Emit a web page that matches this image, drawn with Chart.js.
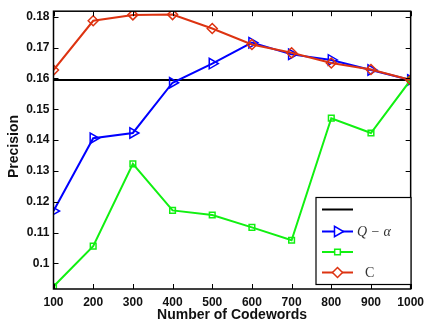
<!DOCTYPE html>
<html>
<head>
<meta charset="utf-8">
<script src="https://cdn.jsdelivr.net/npm/chart.js@4.4.0/dist/chart.umd.min.js"></script>
<style>
html,body{margin:0;padding:0;background:#fff;}
#wrap{position:relative;width:430px;height:333px;}
</style>
</head>
<body>
<div id="wrap"><canvas id="c" width="430" height="333"></canvas></div>
<script>
const codewords = [100, 200, 300, 400, 500, 600, 700, 800, 900, 1000];
const baseline = [0.1595, 0.1595, 0.1595, 0.1595, 0.1595, 0.1595, 0.1595, 0.1595, 0.1595, 0.1595];
const qAlpha = [0.1170, 0.1406, 0.1423, 0.1586, 0.1648, 0.1716, 0.1678, 0.1660, 0.1627, 0.1595];
const green = [0.0925, 0.1056, 0.1323, 0.1172, 0.1157, 0.1117, 0.1075, 0.1471, 0.1423, 0.1595];
const cSeries = [0.1627, 0.1787, 0.1806, 0.1807, 0.1762, 0.1710, 0.1683, 0.1650, 0.1629, 0.1595];
const yTicks = [0.10, 0.11, 0.12, 0.13, 0.14, 0.15, 0.16, 0.17, 0.18];
const xTicks = [100, 200, 300, 400, 500, 600, 700, 800, 900, 1000];
const yLabels = ['0.1', '0.11', '0.12', '0.13', '0.14', '0.15', '0.16', '0.17', '0.18'];
const legendLabels = ['', 'Q \u2212 \u03B1', '', 'C'];

const BLUE = '#0000ff', GREEN = '#11f011', RED = '#dd3311', BLACK = '#000000';
const tickFont = {family: '"Liberation Sans", Arial, sans-serif', size: 12, weight: 'bold'};

function pts(arr){ return arr.map((v,i)=>({x: codewords[i], y: v})); }

const boxPlugin = {
  id: 'box',
  afterDraw(chart){
    const ctx = chart.ctx, a = chart.chartArea;
    const xs = chart.scales.x, ys = chart.scales.y;
    ctx.save();
    ctx.strokeStyle = '#000';
    ctx.lineWidth = 1.5;
    ctx.strokeRect(a.left, a.top, a.right - a.left, a.bottom - a.top);
    ctx.lineWidth = 1;
    const L = 5;
    ctx.beginPath();
    xTicks.forEach(v=>{
      const px = Math.round(xs.getPixelForValue(v)) + 0.5;
      ctx.moveTo(px, a.bottom); ctx.lineTo(px, a.bottom - L);
      ctx.moveTo(px, a.top); ctx.lineTo(px, a.top + L);
    });
    yTicks.forEach(v=>{
      const py = Math.round(ys.getPixelForValue(v)) + 0.5;
      ctx.moveTo(a.left, py); ctx.lineTo(a.left + L, py);
      ctx.moveTo(a.right, py); ctx.lineTo(a.right - L, py);
    });
    ctx.stroke();

    // axis titles
    ctx.fillStyle = '#111';
    ctx.font = 'bold 14px "Liberation Sans", Arial, sans-serif';
    ctx.textAlign = 'center';
    ctx.textBaseline = 'middle';
    ctx.fillText('Number of Codewords', (a.left + a.right) / 2, 315.5);
    ctx.save();
    ctx.translate(14.5, 146.5);
    ctx.rotate(-Math.PI / 2);
    ctx.font = 'bold 14px "Liberation Sans", Arial, sans-serif';
    ctx.fillText('Precision', 0, 0);
    ctx.restore();

    // legend
    const bx = 316, by = 197.5, bw = 95, bh = 87;
    ctx.fillStyle = '#fff';
    ctx.fillRect(bx, by, bw, bh);
    ctx.strokeStyle = '#000';
    ctx.lineWidth = 1.2;
    ctx.strokeRect(bx, by, bw, bh);
    const rows = [209.5, 231.5, 252, 272.5];
    const ds = chart.data.datasets;
    [0, 1, 2, 3].forEach((di, r) => {
      const d = ds[di];
      const y = rows[r];
      ctx.strokeStyle = d.borderColor;
      ctx.lineWidth = 2;
      ctx.beginPath();
      ctx.moveTo(322, y); ctx.lineTo(353, y);
      ctx.stroke();
      if (d.pointStyle && d.pointRadius > 0 && Chart.helpers && Chart.helpers.drawPoint) {
        ctx.fillStyle = '#fff';
        ctx.strokeStyle = d.borderColor;
        ctx.lineWidth = d.pointBorderWidth;
        Chart.helpers.drawPoint(ctx, {pointStyle: d.pointStyle, radius: d.pointRadius, rotation: d.pointRotation || 0, borderWidth: d.pointBorderWidth}, 337.5, y);
      }
      if (legendLabels[r]) {
        ctx.fillStyle = '#333';
        ctx.textAlign = 'left';
        ctx.textBaseline = 'middle';
        if (r === 1) {
          ctx.font = 'italic 14px "Liberation Serif", "DejaVu Serif", serif';
          ctx.fillText(legendLabels[r], 357, y + 1);
        } else {
          ctx.font = '14px "Liberation Serif", "DejaVu Serif", serif';
          ctx.fillText(legendLabels[r], 365, y + 1);
        }
      }
    });
    ctx.restore();
  }
};

new Chart(document.getElementById('c'), {
  type: 'line',
  data: {
    datasets: [
      {data: pts(baseline), borderColor: BLACK, borderWidth: 2, pointRadius: 0, pointStyle: false, order: 4},
      {data: pts(qAlpha), borderColor: BLUE, borderWidth: 2, pointStyle: 'triangle', pointRotation: 90, pointRadius: 6, pointBorderWidth: 1.5, pointBorderColor: BLUE, pointBackgroundColor: 'rgba(0,0,0,0)', order: 3},
      {data: pts(green), borderColor: GREEN, borderWidth: 2, pointStyle: 'rect', pointRadius: 4, pointBorderWidth: 1.5, pointBorderColor: GREEN, pointBackgroundColor: 'rgba(0,0,0,0)', order: 2},
      {data: pts(cSeries), borderColor: RED, borderWidth: 2, pointStyle: 'rectRot', pointRadius: 5, pointBorderWidth: 1.5, pointBorderColor: RED, pointBackgroundColor: 'rgba(0,0,0,0)', order: 1}
    ]
  },
  options: {
    responsive: false,
    animation: false,
    devicePixelRatio: 1,
    layout: {padding: {top: 9, right: 14, left: 0, bottom: 0}},
    plugins: {legend: {display: false}, tooltip: {enabled: false}},
    elements: {line: {tension: 0}},
    scales: {
      x: {
        type: 'linear', min: 100, max: 1000,
        grid: {display: false, drawTicks: false, tickLength: 0}, border: {display: false},
        afterBuildTicks(s){ s.ticks = xTicks.map(v=>({value: v})); },
        afterFit(s){ s.height = 44; },
        ticks: {font: tickFont, color: '#111', padding: 6, maxRotation: 0, autoSkip: false,
          callback: v => String(v)}
      },
      y: {
        type: 'linear', min: 0.0917, max: 0.1818,
        grid: {display: false, drawTicks: false, tickLength: 0}, border: {display: false},
        afterBuildTicks(s){ s.ticks = yTicks.map(v=>({value: v})); },
        afterFit(s){ s.width = 53.5; },
        ticks: {font: tickFont, color: '#111', padding: 4, autoSkip: false,
          callback: v => { const i = yTicks.findIndex(t => Math.abs(t - v) < 1e-9); return i >= 0 ? yLabels[i] : ''; }}
      }
    }
  },
  plugins: [boxPlugin]
});
</script>
</body>
</html>
